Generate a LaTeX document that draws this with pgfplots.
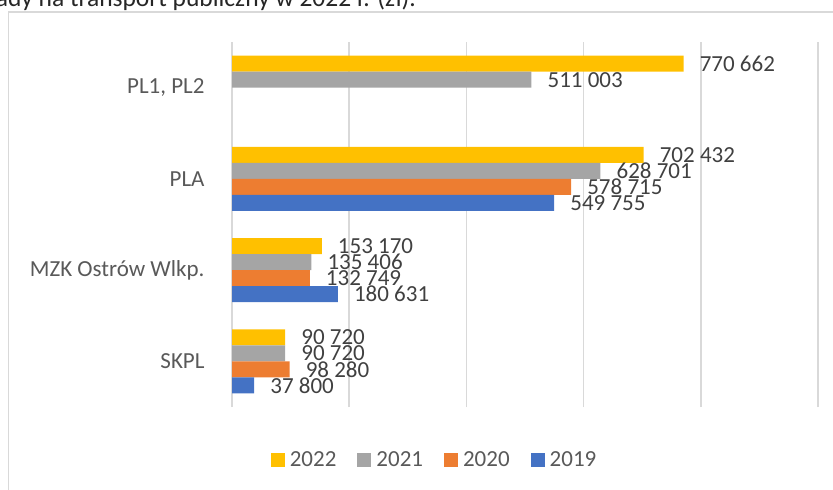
\documentclass[border=0pt]{standalone}
\usepackage{fontspec}
\setmainfont{Carlito}
\usepackage{pgfplots}
\pgfplotsset{compat=1.18}

\definecolor{cA}{HTML}{FFC000}
\definecolor{cB}{HTML}{A5A5A5}
\definecolor{cC}{HTML}{ED7D31}
\definecolor{cD}{HTML}{4472C4}
\definecolor{gridc}{HTML}{D9D9D9}
\definecolor{labc}{HTML}{595959}
\definecolor{valc}{HTML}{404040}

\pgfplotsset{sqleg/.style={legend image code/.code={\fill[##1] (0pt,-7pt) rectangle (14pt,7pt);}}}

\begin{document}
\begin{tikzpicture}[x=1pt,y=1pt]
\useasboundingbox (0,0) rectangle (833,490);
% cropped title and chart frame
\node[anchor=base east, inner sep=0pt, text=black!85, font=\fontsize{25.5}{30}\selectfont] at (416,483) {Nakłady na transport publiczny w 2022 r. (zł).};
\draw[gridc, line width=1.2pt] (8.5,-5) -- (8.5,478) -- (845,478);

\begin{axis}[
  at={(232pt,83pt)}, anchor=south west,
  scale only axis,
  width=586pt, height=365pt,
  xbar,
  bar width=16pt,
  xmin=0, xmax=1000000,
  ymin=-0.5, ymax=3.5,
  xtick={0,200000,400000,600000,800000,1000000},
  xticklabels={},
  scaled x ticks=false,
  ytick={0,1,2,3},
  yticklabels={SKPL, MZK Ostrów Wlkp., PLA, {PL1, PL2}},
  yticklabel style={font=\fontsize{23}{27}\selectfont, text=labc, inner sep=0pt, xshift=-23pt},
  xmajorgrids,
  grid style={gridc, line width=1.5pt},
  axis line style={draw=none},
  tick style={draw=none},
  point meta=x,
  nodes near coords={\pgfmathprintnumber[assume math mode=true, fixed, precision=0, 1000 sep={\ }]{\pgfplotspointmeta}},
  nodes near coords style={font=\fontsize{23}{27}\selectfont, text=valc, anchor=west, inner sep=0pt, xshift=16pt},
  legend columns=-1,
  legend style={at={(0.344,-0.145)}, anchor=center, draw=none, fill=none,
    font=\fontsize{23}{27}\selectfont, text=labc,
    nodes={inner sep=0pt},
    /tikz/every odd column/.append style={column sep=5pt},
    /tikz/every even column/.append style={column sep=21pt}},
]
\addplot[fill=cA, draw=none, bar shift=24pt, sqleg] coordinates {
  (770662,3) (702432,2) (153170,1) (90720,0)
};
\addplot[fill=cB, draw=none, bar shift=8pt, sqleg] coordinates {
  (511003,3) (628701,2) (135406,1) (90720,0)
};
\addplot[fill=cC, draw=none, bar shift=-8pt, sqleg] coordinates {
  (578715,2) (132749,1) (98280,0)
};
\addplot[fill=cD, draw=none, bar shift=-24pt, sqleg] coordinates {
  (549755,2) (180631,1) (37800,0)
};
\legend{2022,2021,2020,2019}
\end{axis}
\end{tikzpicture}
\end{document}
